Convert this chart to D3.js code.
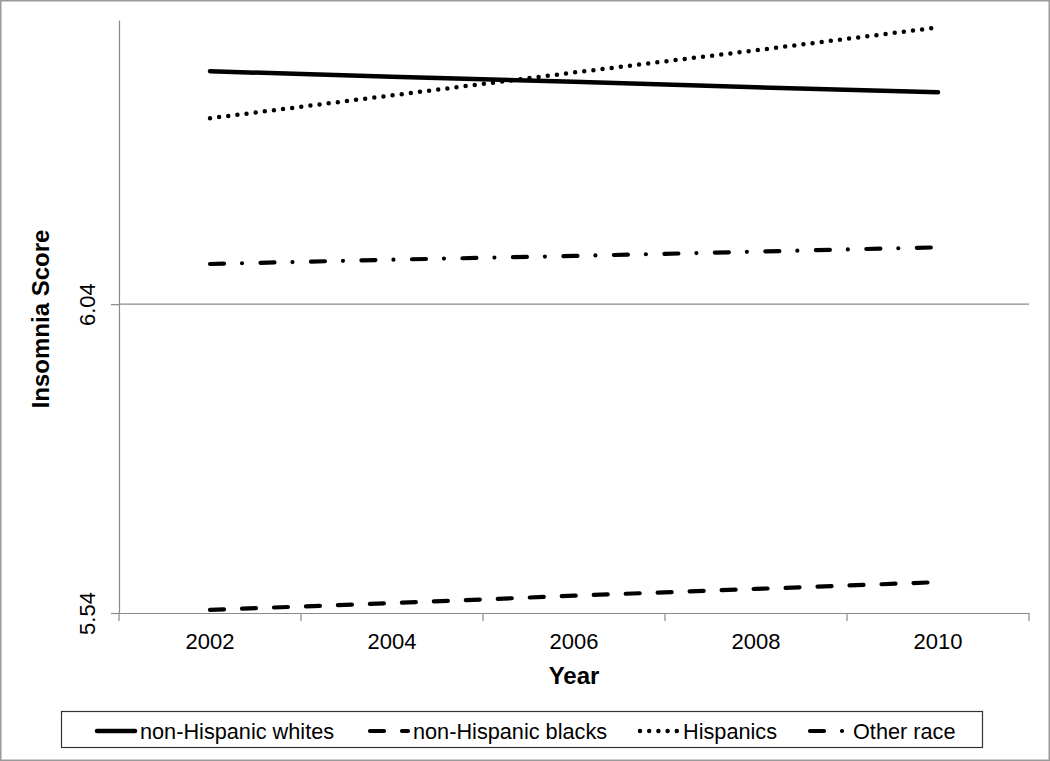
<meta charset="utf-8">
<html>
<head>
<title>Insomnia Score by Year</title>
<style>
  body { margin: 0; background: #fff; }
  text { font-family: "Liberation Sans", Arial, sans-serif; fill: #000; }
  .ticklabel { font-size: 22px; }
  .axistitle { font-size: 24px; font-weight: bold; }
  .legtext { font-size: 21.7px; }
</style>
</head>
<body>
<svg width="1050" height="761"></svg>

<script src="https://d3js.org/d3.v7.min.js"></script>
<script>

var years = ["2002", "2004", "2006", "2008", "2010"];
var yTicks = [5.54, 6.04];

var whites    = [6.417, 6.408, 6.400, 6.391, 6.383];
var blacks    = [5.545, 5.556, 5.568, 5.579, 5.590];
var hispanics = [6.341, 6.378, 6.415, 6.451, 6.488];
var other     = [6.105, 6.112, 6.118, 6.125, 6.132];

var seriesNames = ["non-Hispanic whites", "non-Hispanic blacks", "Hispanics", "Other race"];
var seriesVals = [whites, blacks, hispanics, other];

// line styles per series
var styles = [
  {w: 4.5, dash: null},
  {w: 4.2, dash: "14,18"},
  {w: 4.5, dash: "0,9.2"},
  {w: 4.2, dash: "14,18,0,18.5"}
];

var svg = d3.select("svg");

// outer frame
svg.append("rect")
  .attr("x", 0.75).attr("y", 0.75)
  .attr("width", 1048.5).attr("height", 759.5)
  .attr("fill", "none")
  .attr("stroke", "#9a9a9a")
  .attr("stroke-width", 1.5);

var pLeft = 119, pRight = 1029, pTop = 20, pBottom = 613;

var x = d3.scaleBand().domain(years).range([pLeft, pRight]).padding(0);
var y = d3.scaleLinear().domain([5.54, 6.5]).range([pBottom, pTop]);
var cx = function(d) { return x(d) + x.bandwidth() / 2; };

// gridline
svg.append("g").selectAll("line")
  .data(yTicks.slice(1))
  .enter().append("line")
  .attr("x1", pLeft).attr("x2", pRight)
  .attr("y1", function(d) { return y(d); })
  .attr("y2", function(d) { return y(d); })
  .attr("stroke", "#8a8a8a")
  .attr("stroke-width", 1.2);

// y axis
var yAxis = svg.append("g")
  .attr("transform", "translate(" + pLeft + ",0)")
  .call(d3.axisLeft(y).tickValues(yTicks).tickSize(8).tickSizeOuter(0).tickFormat(d3.format(".2f")));
yAxis.select(".domain").attr("stroke", "#8a8a8a").attr("stroke-width", 1.2);
yAxis.selectAll(".tick line").attr("stroke", "#8a8a8a").attr("stroke-width", 1.2);
yAxis.selectAll(".tick text")
  .attr("class", "ticklabel")
  .attr("transform", "rotate(-90)")
  .attr("x", 0).attr("y", -24).attr("dy", 0)
  .attr("text-anchor", "middle")
  .attr("fill", "#000");
yAxis.attr("font-size", null).attr("font-family", null);

// x axis
var xAxis = svg.append("g")
  .attr("transform", "translate(0," + pBottom + ")")
  .call(d3.axisBottom(x).tickSize(0).tickSizeOuter(0));
xAxis.select(".domain").attr("stroke", "#8a8a8a").attr("stroke-width", 1.2);
xAxis.selectAll(".tick text")
  .attr("class", "ticklabel")
  .attr("y", 36).attr("dy", 0)
  .attr("fill", "#000");
xAxis.attr("font-size", null).attr("font-family", null);

// category boundary ticks
var bounds = years.map(function(d) { return x(d); }).concat([x.range()[1]]);
xAxis.selectAll(".btick")
  .data(bounds)
  .enter().append("line")
  .attr("class", "btick")
  .attr("x1", function(d) { return d; })
  .attr("x2", function(d) { return d; })
  .attr("y1", 0).attr("y2", 8)
  .attr("stroke", "#8a8a8a")
  .attr("stroke-width", 1.2);

// axis titles
svg.append("text")
  .attr("class", "axistitle")
  .attr("x", cx("2006"))
  .attr("y", 684)
  .attr("text-anchor", "middle")
  .text("Year");

svg.append("text")
  .attr("class", "axistitle")
  .attr("transform", "translate(49,319) rotate(-90)")
  .attr("text-anchor", "middle")
  .text("Insomnia Score");

// series lines
var line = d3.line()
  .x(function(d, i) { return cx(years[i]); })
  .y(function(d) { return y(d); });

svg.append("g").selectAll("path")
  .data(seriesVals)
  .enter().append("path")
  .attr("d", function(d) { return line(d); })
  .attr("fill", "none")
  .attr("stroke", "#000")
  .attr("stroke-width", function(d, i) { return styles[i].w; })
  .attr("stroke-dasharray", function(d, i) { return styles[i].dash; })
  .attr("stroke-linecap", "round");

// legend
var legX = [95, 368, 638, 808];
svg.append("rect")
  .attr("x", 61.5).attr("y", 711.5)
  .attr("width", 921).attr("height", 36)
  .attr("fill", "#fff")
  .attr("stroke", "#333")
  .attr("stroke-width", 1.2);

var leg = svg.append("g").selectAll("g")
  .data(seriesNames)
  .enter().append("g")
  .attr("transform", function(d, i) { return "translate(" + legX[i] + ",731)"; });

leg.append("line")
  .attr("x1", 2).attr("x2", 40)
  .attr("y1", 0).attr("y2", 0)
  .attr("stroke", "#000")
  .attr("stroke-width", function(d, i) { return styles[i].w; })
  .attr("stroke-dasharray", function(d, i) { return styles[i].dash; })
  .attr("stroke-linecap", "round");

leg.append("text")
  .attr("class", "legtext")
  .attr("x", 45)
  .attr("y", 8)
  .text(function(d) { return d; });

</script>
</body>
</html>
